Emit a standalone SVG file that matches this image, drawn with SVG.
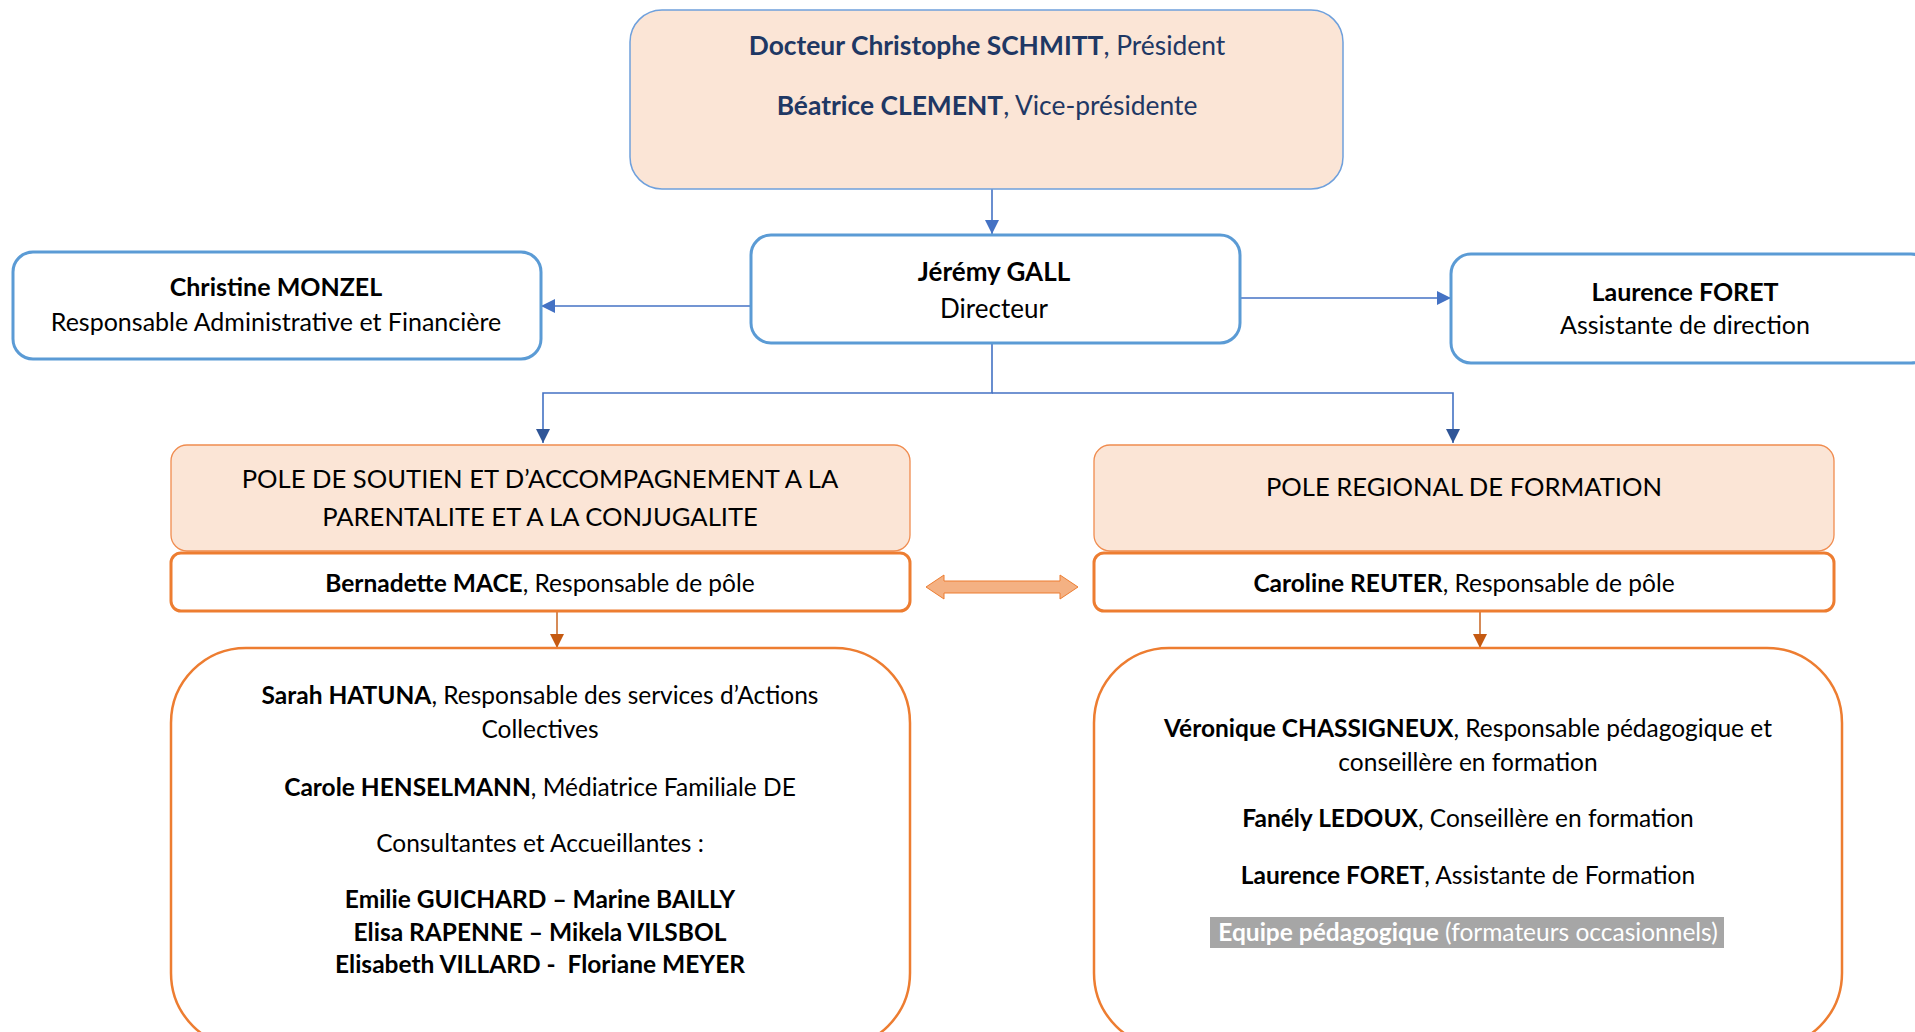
<svg xmlns="http://www.w3.org/2000/svg" width="1915" height="1032" viewBox="0 0 1915 1032">
<defs>
<style>
text{font-family:Lato,"Open Sans","Liberation Sans",sans-serif;fill:#000;text-anchor:middle}
.b{font-weight:bold}
.navy{fill:#1F3864}
.t26{font-size:26px}
.top{font-size:26.4px}
.caps{font-size:25.6px}
.t24{font-size:24.5px}
.t25{font-size:25px}
.peach{fill:#FBE5D6}
.blueBox{fill:#fff;stroke:#5B9BD5;stroke-width:3}
.orangeThin{stroke:#F08C4F;stroke-width:1.3}
.orangeBox{fill:#fff;stroke:#ED7D31;stroke-width:3}
.blueLine{fill:none;stroke:#4472C4;stroke-width:1.6}
.orangeLine{fill:none;stroke:#C55A11;stroke-width:1.4}
</style>
<marker id="ab" markerUnits="userSpaceOnUse" markerWidth="16" markerHeight="16" refX="14" refY="7" orient="auto">
<path d="M0,0 L14,7 L0,14 z" fill="#4472C4"/>
</marker>
<marker id="ad" markerUnits="userSpaceOnUse" markerWidth="16" markerHeight="16" refX="14" refY="7" orient="auto">
<path d="M0,0 L14,7 L0,14 z" fill="#2F5597"/>
</marker>
<marker id="ao" markerUnits="userSpaceOnUse" markerWidth="16" markerHeight="16" refX="14" refY="7" orient="auto">
<path d="M0,0 L14,7 L0,14 z" fill="#C55A11"/>
</marker>
</defs>
<rect width="1915" height="1032" fill="#fff"/>

<g id="connectors">
<line class="blueLine" x1="992" y1="189" x2="992" y2="234" marker-end="url(#ab)"/>
<line class="blueLine" x1="751" y1="306" x2="541" y2="306" marker-end="url(#ab)"/>
<line class="blueLine" x1="1240" y1="298" x2="1451" y2="298" marker-end="url(#ab)"/>
<polyline class="blueLine" points="992,343 992,393 543,393 543,443" marker-end="url(#ad)"/>
<polyline class="blueLine" points="992,393 1453,393 1453,443" marker-end="url(#ad)"/>
<line class="orangeLine" x1="557" y1="611" x2="557" y2="648" marker-end="url(#ao)"/>
<line class="orangeLine" x1="1480" y1="611" x2="1480" y2="648" marker-end="url(#ao)"/>
<polygon points="926,587 944,575 944,581 1060,581 1060,575 1078,587 1060,599 1060,593 944,593 944,599" fill="#F4B183" stroke="#ED7D31" stroke-width="1"/>
</g>

<g id="president">
<rect x="630" y="10" width="713" height="179" rx="32" class="peach" stroke="#6FA0DC" stroke-width="1.5"/>
<text x="987" y="55" class="top navy"><tspan class="b">Docteur Christophe SCHMITT</tspan>, Président</text>
<text x="987" y="115" class="top navy"><tspan class="b">Béatrice CLEMENT</tspan>, Vice-présidente</text>
</g>

<g id="directeur">
<rect x="751" y="235" width="489" height="108" rx="20" class="blueBox"/>
<text x="994" y="281" class="t26 b">Jérémy GALL</text>
<text x="994" y="318" class="t26">Directeur</text>
</g>

<g id="monzel">
<rect x="13" y="252" width="528" height="107" rx="20" class="blueBox"/>
<text x="276" y="296" class="t25 b">Christine MONZEL</text>
<text x="276" y="331" class="t25">Responsable Administrative et Financière</text>
</g>

<g id="foret">
<rect x="1451" y="254" width="480" height="109" rx="20" class="blueBox"/>
<text x="1685" y="301" class="t25 b">Laurence FORET</text>
<text x="1685" y="334" class="t25">Assistante de direction</text>
</g>

<g id="pole-soutien">
<rect x="171" y="445" width="739" height="106" rx="16" class="peach orangeThin"/>
<text x="540" y="488" class="caps">POLE DE SOUTIEN ET D’ACCOMPAGNEMENT A LA</text>
<text x="540" y="526" class="caps">PARENTALITE ET A LA CONJUGALITE</text>
</g>

<g id="resp-soutien">
<rect x="171" y="553" width="739" height="58" rx="10" class="orangeBox"/>
<text x="540" y="592" class="t24"><tspan class="b">Bernadette MACE</tspan>, Responsable de pôle</text>
</g>

<g id="pole-formation">
<rect x="1094" y="445" width="740" height="106" rx="16" class="peach orangeThin"/>
<text x="1464" y="496" class="caps">POLE REGIONAL DE FORMATION</text>
</g>

<g id="resp-formation">
<rect x="1094" y="553" width="740" height="58" rx="10" class="orangeBox"/>
<text x="1464" y="592" class="t24"><tspan class="b">Caroline REUTER</tspan>, Responsable de pôle</text>
</g>

<g id="equipe-soutien">
<rect x="171" y="648" width="739" height="400" rx="75" fill="#fff" stroke="#ED7D31" stroke-width="2.5"/>
<text x="540" y="704" class="t24"><tspan class="b">Sarah HATUNA</tspan>, Responsable des services d’Actions</text>
<text x="540" y="738" class="t24">Collectives</text>
<text x="540" y="796" class="t24"><tspan class="b">Carole HENSELMANN</tspan>, Médiatrice Familiale DE</text>
<text x="540" y="852" class="t24">Consultantes et Accueillantes :</text>
<text x="540" y="908" class="t24 b">Emilie GUICHARD – Marine BAILLY</text>
<text x="540" y="941" class="t24 b">Elisa RAPENNE – Mikela VILSBOL</text>
<text x="540" y="973" class="t24 b" xml:space="preserve">Elisabeth VILLARD -  Floriane MEYER</text>
</g>

<g id="equipe-formation">
<rect x="1094" y="648" width="748" height="400" rx="75" fill="#fff" stroke="#ED7D31" stroke-width="2.5"/>
<text x="1468" y="737" class="t24"><tspan class="b">Véronique CHASSIGNEUX</tspan>, Responsable pédagogique et</text>
<text x="1468" y="771" class="t24">conseillère en formation</text>
<text x="1468" y="827" class="t24"><tspan class="b">Fanély LEDOUX</tspan>, Conseillère en formation</text>
<text x="1468" y="884" class="t24"><tspan class="b">Laurence FORET</tspan>, Assistante de Formation</text>
<rect x="1210" y="917" width="514" height="31" fill="#A6A6A6"/>
<text x="1468" y="941" class="t24" style="fill:#fff"><tspan class="b" style="fill:#fff">Equipe pédagogique</tspan> (formateurs occasionnels)</text>
</g>
</svg>
